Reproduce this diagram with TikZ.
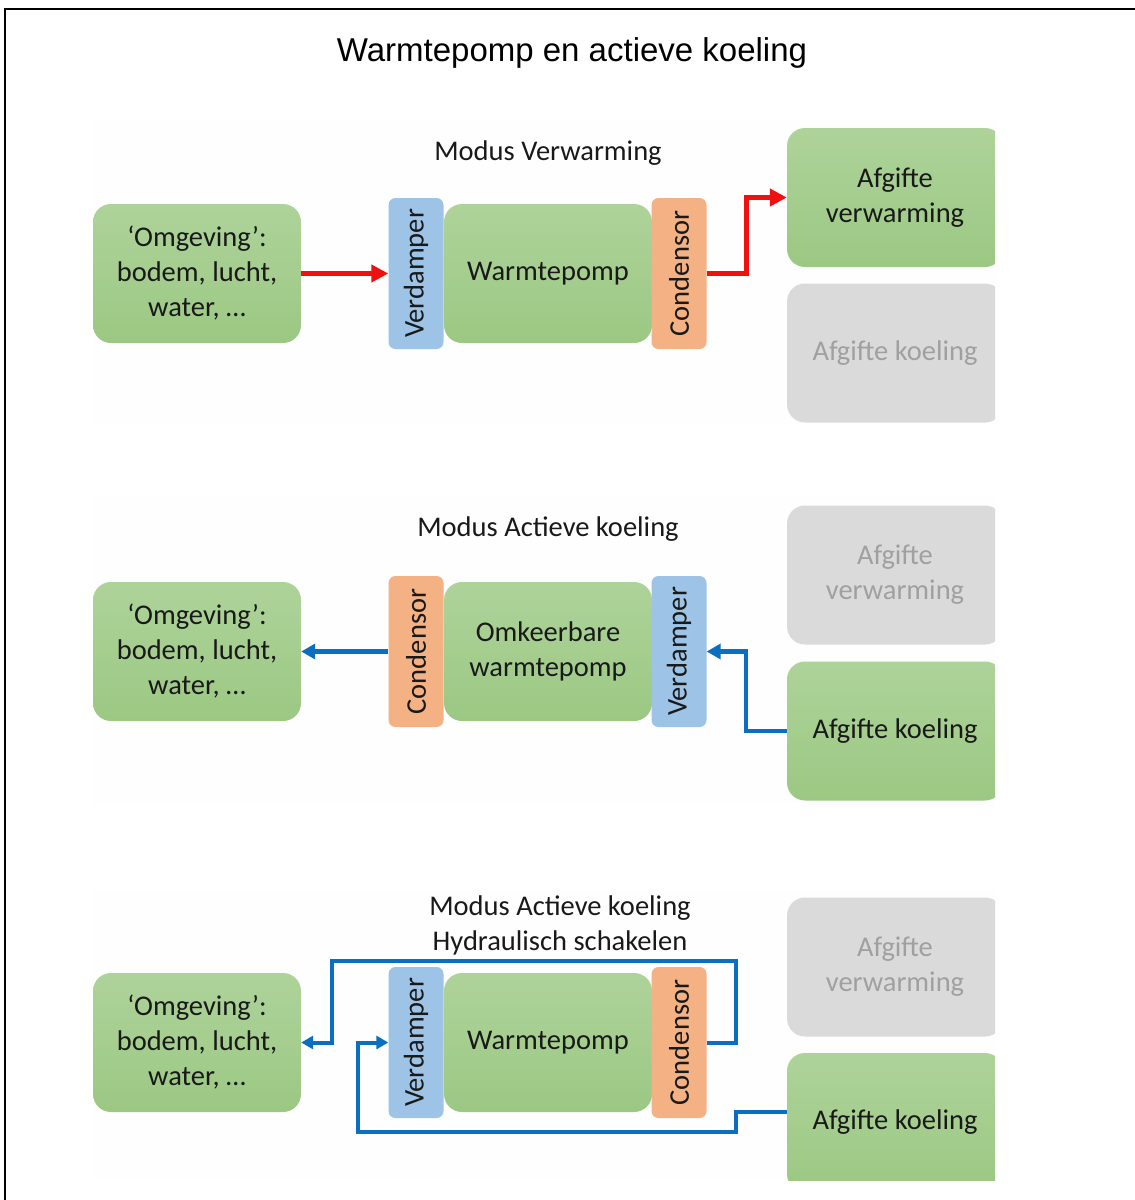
\documentclass[tikz,border=0pt]{standalone}
\usepackage{fontspec}
\setmainfont{Carlito}
\newfontfamily\titlefont{Liberation Sans}
\usepackage{graphicx}
\usetikzlibrary{arrows.meta,calc}

\definecolor{greentop}{HTML}{AED39A}
\definecolor{greenbot}{HTML}{9BC883}
\definecolor{offfill}{HTML}{DADADA}
\definecolor{offtext}{HTML}{A0A0A0}
\definecolor{evapblue}{HTML}{9DC3E6}
\definecolor{condorange}{HTML}{F4B183}
\definecolor{flowred}{HTML}{F01010}
\definecolor{flowblue}{HTML}{0A6FC0}
\definecolor{panelbg}{HTML}{FEFEFE}

\newcommand\boxfont{\fontsize{28.5}{35}\selectfont}

\tikzset{
  box/.style={rounded corners=18pt, minimum width=208pt, minimum height=139pt,
    inner sep=0pt, align=center, font=\boxfont, text=black!90,
    top color=greentop, bottom color=greenbot, draw=none},
  sidebox/.style={box, minimum width=216pt},
  offbox/.style={sidebox, top color=offfill, bottom color=offfill, text=offtext},
  bar/.style={rounded corners=7pt, minimum width=55pt, minimum height=151pt,
    inner sep=0pt, font=\boxfont, text=black!90},
  evap/.style={bar, fill=evapblue},
  cond/.style={bar, fill=condorange},
  modelabel/.style={font=\boxfont, text=black!90, align=center},
  hotflow/.style={draw=flowred, line width=5pt,
    -{Triangle[length=17pt,width=17pt]}},
  coldflow/.style={draw=flowblue, line width=4.5pt,
    -{Triangle[length=14pt,width=15pt]}},
  coldflowsmall/.style={draw=flowblue, line width=4pt,
    -{Triangle[length=12pt,width=13pt]}},
}

\begin{document}
\begin{tikzpicture}[x=1pt,y=-1pt]
\useasboundingbox (0,0) rectangle (1135,1200);

% frame
\draw[line width=2pt] (4,9) -- (1135,9);
\draw[line width=2pt] (5,9) -- (5,1200);

% title
\node[font=\titlefont\fontsize{33}{40}\selectfont] (title) at (572,53) {Warmtepomp en actieve koeling};

% faint panel backgrounds
\fill[panelbg] (93,120) rectangle (995,425);
\fill[panelbg] (93,497) rectangle (995,805);
\fill[panelbg] (93,890) rectangle (995,1180);

\begin{scope}
\clip (0,0) rectangle (995,1180);

% ---------- heating mode ----------
\node[modelabel] (m1) at (548,153) {Modus Verwarming};
\node[box] (om1) at (197,273.5) {‘Omgeving’:\\bodem, lucht,\\water, …};
\node[evap] (vd1) at (416,273.5) {\rotatebox{90}{Verdamper}};
\node[box] (wp1) at (548,273.5) {Warmtepomp};
\node[cond] (cd1) at (679,273.5) {\rotatebox{90}{Condensor}};
\node[sidebox] (av1) at (895,197.5) {Afgifte\\verwarming};
\node[offbox] (ak1) at (895,353) {Afgifte koeling};

\draw[hotflow] (om1.east) -- (vd1.west);
\draw[hotflow] (cd1.east) -- ++(40,0) |- (av1.west);

% ---------- active cooling ----------
\node[modelabel] (m2) at (548,529) {Modus Actieve koeling};
\node[offbox] (av2) at (895,575) {Afgifte\\verwarming};
\node[box] (om2) at (197,651.5) {‘Omgeving’:\\bodem, lucht,\\water, …};
\node[cond] (cd2) at (416,651.5) {\rotatebox{90}{Condensor}};
\node[box] (wp2) at (548,651.5) {Omkeerbare\\warmtepomp};
\node[evap] (vd2) at (679,651.5) {\rotatebox{90}{Verdamper}};
\node[sidebox] (ak2) at (895,731) {Afgifte koeling};

\draw[coldflow] (cd2.west) -- (om2.east);
\draw[coldflow] (ak2.west) -- ++(-41,0) |- (vd2.east);

% ---------- active cooling, hydraulic switching ----------
\node[modelabel] (m3) at (560,925) {Modus Actieve koeling\\Hydraulisch schakelen};
\node[offbox] (av3) at (895,967) {Afgifte\\verwarming};
\node[box] (om3) at (197,1042.5) {‘Omgeving’:\\bodem, lucht,\\water, …};
\node[evap] (vd3) at (416,1042.5) {\rotatebox{90}{Verdamper}};
\node[box] (wp3) at (548,1042.5) {Warmtepomp};
\node[cond] (cd3) at (679,1042.5) {\rotatebox{90}{Condensor}};
\node[sidebox] (ak3) at (895,1122.5) {Afgifte koeling};

\coordinate (t1) at (736,961);
\coordinate (t2) at (332,961);
\coordinate (b1) at (736,1132);
\coordinate (b2) at (358,1132);
\draw[coldflowsmall] (cd3.east) -| (t1) -- (t2) |- (om3.east);
\draw[coldflowsmall] ($(ak3.west)+(0,-11)$) -| (b1) -- (b2) |- (vd3.west);
\end{scope}
\end{tikzpicture}
\end{document}
